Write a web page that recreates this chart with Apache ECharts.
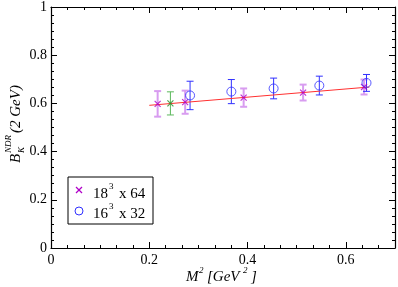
<!DOCTYPE html>
<html><head><meta charset="utf-8">
<script src="https://cdn.jsdelivr.net/npm/echarts@6/dist/echarts.min.js"></script>
<style>html,body{margin:0;padding:0;background:#fff}#c{width:398px;height:287px}</style>
</head><body><div id="c"></div>
<script>
// data
const xTicks = ['0', '0.2', '0.4', '0.6'];
const yTicks = ['0', '0.2', '0.4', '0.6', '0.8', '1'];
// 18^3 x 64 (purple)
const purpleX = [0.217, 0.273, 0.392, 0.513, 0.637];
const purpleY = [0.598, 0.605, 0.624, 0.645, 0.668];
const purpleErr = [0.053, 0.048, 0.038, 0.033, 0.031];
// extra point (green)
const greenX = [0.243];
const greenY = [0.600];
const greenErr = [0.048];
// 16^3 x 32 (blue)
const blueX = [0.283, 0.367, 0.453, 0.546, 0.642];
const blueY = [0.633, 0.649, 0.662, 0.674, 0.685];
const blueErr = [0.059, 0.050, 0.043, 0.039, 0.035];
// fit line
const fitX = [0.200, 0.648];
const fitY = [0.592, 0.668];

const serif = '"Liberation Serif","DejaVu Serif",serif';
function pts(xs, ys){ return xs.map((x,i)=>[x, ys[i]]); }
function errData(xs, ys, es){ return xs.map((x,i)=>[x, ys[i]-es[i], ys[i]+es[i]]); }
function errSeries(xs, ys, es, color, width){
  return {
    type:'custom', silent:true, z:2,
    renderItem:function(params, api){
      const lo = api.coord([api.value(0), api.value(1)]);
      const hi = api.coord([api.value(0), api.value(2)]);
      const w = 3.5;
      const st = {stroke:color, lineWidth:width};
      return {type:'group', children:[
        {type:'line', shape:{x1:lo[0],y1:lo[1],x2:hi[0],y2:hi[1]}, style:st},
        {type:'line', shape:{x1:lo[0]-w,y1:lo[1],x2:lo[0]+w,y2:lo[1]}, style:st},
        {type:'line', shape:{x1:hi[0]-w,y1:hi[1],x2:hi[0]+w,y2:hi[1]}, style:st}
      ]};
    },
    encode:{x:0, y:[1,2]},
    data: errData(xs, ys, es)
  };
}
const crossPath = 'path://M0,0L10,10M10,0L0,10';
const chart = echarts.init(document.getElementById('c'), null, {renderer:'canvas'});
function mkAxis(extra){
  return Object.assign({
    axisLine:{show:true, onZero:false, lineStyle:{color:'#000', width:1.2}},
    splitLine:{show:false},
    axisTick:{show:true, inside:true, length:6, lineStyle:{color:'#000'}},
    minorTick:{show:true, splitNumber:6, length:3, lineStyle:{color:'#000'}}
  }, extra);
}
function lbl(list){ return v => { const s = String(Math.round(v*10)/10); return list.includes(s) ? s : ''; }; }
const it = {fontFamily:serif, fontStyle:'italic', fontSize:15, fill:'#000'};
const itS = {fontFamily:serif, fontStyle:'italic', fontSize:9, fill:'#000'};
const rm = {fontFamily:serif, fontSize:15, fill:'#000'};
const rmS = {fontFamily:serif, fontSize:9, fill:'#000'};
function T(x, y, text, st){ return {type:'text', x:x, y:y, style:Object.assign({text:text, textVerticalAlign:'middle'}, st)}; }
chart.setOption({
  animation:false,
  grid:{left:51, top:6, width:346, height:242, containLabel:false},
  xAxis:[mkAxis({
    type:'value', min:0, max:0.7, interval:0.2, position:'bottom',
    axisLabel:{fontFamily:serif, fontSize:14, color:'#000', margin:5, formatter:lbl(xTicks)}
  }), mkAxis({
    type:'value', min:0, max:0.7, interval:0.2, position:'top',
    axisLabel:{show:false}
  })],
  yAxis:[mkAxis({
    type:'value', min:0, max:1, interval:0.2, position:'left',
    axisLabel:{fontFamily:serif, fontSize:14, color:'#000', margin:4, formatter:lbl(yTicks)}
  }), mkAxis({
    type:'value', min:0, max:1, interval:0.2, position:'right',
    axisLabel:{show:false}
  })],
  series:[
    {type:'line', data:pts(fitX, fitY), symbol:'none', z:3,
      lineStyle:{color:'#ff3030', width:1}},
    errSeries(purpleX, purpleY, purpleErr, '#d89cf0', 2),
    errSeries(greenX, greenY, greenErr, '#5cb85c', 1),
    errSeries(blueX, blueY, blueErr, '#3030ff', 1),
    {type:'scatter', data:pts(purpleX, purpleY), symbol:crossPath, symbolSize:6, z:4,
      itemStyle:{color:'none', borderColor:'#b000c8', borderWidth:1.2}},
    {type:'scatter', data:pts(greenX, greenY), symbol:crossPath, symbolSize:6, z:4,
      itemStyle:{color:'none', borderColor:'#2a8a2a', borderWidth:1.2}},
    {type:'scatter', data:pts(blueX, blueY), symbol:'circle', symbolSize:9, z:4,
      itemStyle:{color:'none', borderColor:'#3030ff', borderWidth:1}}
  ],
  graphic:[
    {type:'group', x:16, y:125, rotation:Math.PI/2, children:[
      T(-38, 0, 'B', it), T(-28, -7, 'NDR', itS), T(-28, 6, 'K', itS), T(-8, 0, '(2 GeV)', it)
    ]},
    // x axis title
    T(186, 277, 'M', it), T(199, 271, '2', itS), T(207, 277, '[GeV', it), T(243, 271, '2', itS), T(251, 277, ']', it),
    // legend
    {type:'rect', shape:{x:68, y:177, width:85, height:47}, style:{fill:'none', stroke:'#000', lineWidth:1}},
    {type:'line', shape:{x1:76,y1:187,x2:82,y2:193}, style:{stroke:'#b000c8', lineWidth:1.2}},
    {type:'line', shape:{x1:82,y1:187,x2:76,y2:193}, style:{stroke:'#b000c8', lineWidth:1.2}},
    {type:'circle', shape:{cx:79, cy:211, r:4}, style:{fill:'none', stroke:'#3030ff', lineWidth:1}},
    T(93, 194, '18', rm), T(109, 187, '3', rmS), T(119, 194, 'x 64', rm),
    T(93, 214, '16', rm), T(109, 207, '3', rmS), T(119, 214, 'x 32', rm)
  ]
});
</script></body></html>
